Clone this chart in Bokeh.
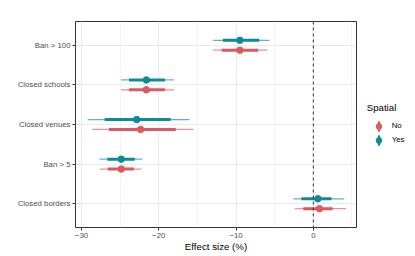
from bokeh.plotting import figure
from bokeh.models import (ColumnDataSource, Range1d, FixedTicker, Span, Legend,
                          LegendItem)
from bokeh.embed import file_html
from bokeh.resources import INLINE

# ---------------- data ----------------
categories = ["Ban > 100", "Closed schools", "Closed venues", "Ban > 5", "Closed borders"]

yes_est = [-9.5, -21.6, -22.85, -24.85, 0.6]
yes_q1_lo = [-11.7, -23.85, -27.0, -26.65, -1.55]
yes_q1_hi = [-7.0, -19.2, -18.45, -23.1, 2.35]
yes_q2_lo = [-13.0, -24.9, -29.2, -27.65, -2.6]
yes_q2_hi = [-5.67, -18.0, -16.0, -22.1, 4.0]

no_est = [-9.5, -21.6, -22.35, -24.85, 0.8]
no_q1_lo = [-11.85, -23.85, -26.45, -26.6, -1.3]
no_q1_hi = [-7.15, -19.2, -17.8, -23.2, 2.5]
no_q2_lo = [-13.0, -24.9, -28.6, -27.6, -2.4]
no_q2_hi = [-5.93, -18.0, -15.5, -22.25, 4.25]

x_ticks = [-30, -20, -10, 0]
x_minor = [-25, -15, -5, 5]
x_labels = ["\u221230", "\u221220", "\u221210", "0"]

COL_NO = "#DD5860"
COL_YES = "#0F8A99"
FONT = "Liberation Sans"
DODGE = 0.125

n = len(categories)
ypos = [n - i for i in range(n)]

p = figure(frame_width=281, frame_height=206, output_backend="svg",
           toolbar_location=None, min_border_left=75, min_border_top=21,
           min_border_right=59, min_border_bottom=29,
           x_range=Range1d(-30.77, 5.59), y_range=Range1d(0.4, n + 0.6))

p.background_fill_color = "white"
p.border_fill_color = "white"
p.outline_line_color = "#333333"
p.outline_line_width = 1

# grids
p.xaxis.ticker = FixedTicker(ticks=x_ticks, minor_ticks=x_minor)
p.yaxis.ticker = FixedTicker(ticks=ypos)
p.xgrid.grid_line_color = "#EBEBEB"
p.xgrid.grid_line_width = 1
p.xgrid.minor_grid_line_color = "#EBEBEB"
p.xgrid.minor_grid_line_width = 0.6
p.ygrid.grid_line_color = "#EBEBEB"
p.ygrid.grid_line_width = 1

p.xaxis.major_label_overrides = {t: l for t, l in zip(x_ticks, x_labels)}
p.yaxis.major_label_overrides = {y: c for y, c in zip(ypos, categories)}

for ax in (p.xaxis, p.yaxis):
    ax.axis_line_color = None
    ax.major_tick_line_color = "#333333"
    ax.major_tick_out = 3
    ax.major_tick_in = 0
    ax.minor_tick_line_color = None
    ax.major_label_standoff = 2
    ax.major_label_text_font = FONT
    ax.major_label_text_font_size = "7.8px"
    ax.major_label_text_color = "#4D4D4D"
p.xaxis.major_label_standoff = 1

p.xaxis.axis_label = "Effect size (%)"
p.xaxis.axis_label_text_font = FONT
p.xaxis.axis_label_text_font_size = "9.7px"
p.xaxis.axis_label_text_font_style = "normal"
p.xaxis.axis_label_text_color = "black"
p.xaxis.axis_label_standoff = 0

items = []
for name, col, off, est, q1l, q1h, q2l, q2h in [
        ("No", COL_NO, -DODGE, no_est, no_q1_lo, no_q1_hi, no_q2_lo, no_q2_hi),
        ("Yes", COL_YES, DODGE, yes_est, yes_q1_lo, yes_q1_hi, yes_q2_lo, yes_q2_hi)]:
    src = ColumnDataSource(dict(y=[v + off for v in ypos], est=est,
                                q1l=q1l, q1h=q1h, q2l=q2l, q2h=q2h))
    p.segment(x0="q2l", x1="q2h", y0="y", y1="y", source=src,
              line_color=col, line_width=1.3, line_alpha=0.65)
    p.segment(x0="q1l", x1="q1h", y0="y", y1="y", source=src,
              line_color=col, line_width=3)
    # tiny upright ellipse hidden under each point: gives the legend a vertical key
    key = p.ellipse(x="est", y="y", source=src, width=1.1, height=4,
                    width_units="screen", height_units="screen",
                    fill_color=col, line_color=None)
    dot = p.scatter(x="est", y="y", source=src, size=6.5, marker="circle",
                    fill_color=col, line_color=col)
    items.append(LegendItem(label=name, renderers=[key, dot]))

p.add_layout(Span(location=0, dimension="height", line_color="#333333",
                  line_width=1, line_dash="3 3"))

legend = Legend(items=items, location=(10.7, 80.5), padding=0, margin=0, spacing=0,
                glyph_width=23, glyph_height=14, label_standoff=2,
                border_line_color=None, background_fill_alpha=0,
                title="Spatial", title_text_font=FONT, title_text_font_size="9.7px",
                title_text_font_style="normal", title_text_color="black",
                title_standoff=6,
                label_text_font=FONT, label_text_font_size="7.8px",
                label_text_color="black")
p.add_layout(legend, "right")

open("out.html", "w").write(file_html(p, INLINE))
